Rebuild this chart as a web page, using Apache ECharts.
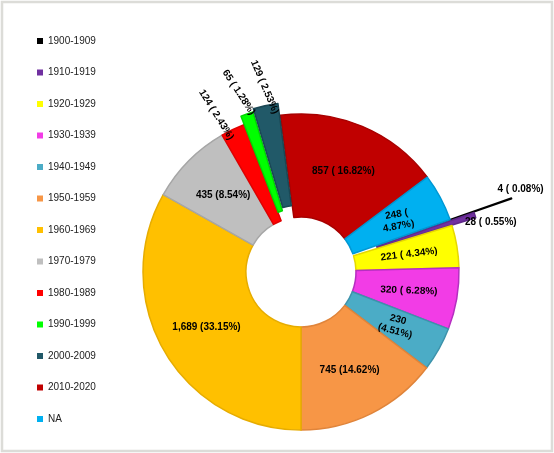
<!DOCTYPE html>
<html>
<head>
  <meta charset="utf-8">
  <script src="https://cdn.jsdelivr.net/npm/echarts@6/dist/echarts.min.js"></script>
  <style>
    body { margin: 0; background: #fff; }
    #chart { width: 554px; height: 453px; }
  </style>
</head>
<body>
<div id="chart"></div>
<script>
  // data
  var decades = ['1900-1909', '1910-1919', '1920-1929', '1930-1939', '1940-1949', '1950-1959',
    '1960-1969', '1970-1979', '1980-1989', '1990-1999', '2000-2009', '2010-2020', 'NA'];
  var counts = [4, 28, 221, 320, 230, 745, 1689, 435, 124, 65, 129, 857, 248];
  // text between count and percentage in each label
  var seps = [' ( ', ' ( ', ' ( ', ' ( ', '\n(', ' (', ' (', ' (', ' ( ', ' ( ', ' ( ', ' ( ', ' (\n'];

  // styles
  var colors = ['#000000', '#7030a0', '#ffff00', '#f23ce6', '#4bacc6', '#f79646',
    '#ffc000', '#bfbfbf', '#ff0000', '#00ff00', '#215968', '#c00000', '#00b0f0'];
  var borders = ['#000000', '#5f2889', '#e6d800', '#b52fc0', '#3d93ab', '#e0843a',
    '#e6ac00', '#a6a6a6', '#e00000', '#00d800', '#1a4754', '#a80000', '#0098d4'];
  var explode = [65, 25, 0, 0, 0, 0, 0, 0, 0, 9, 12, 0, 0];
  var outside = [1, 1, 0, 0, 0, 0, 0, 0, 1, 1, 1, 0, 0];
  var rotates = [0, 0, 7, -2, -15, 0, 0, 0, -58, -57, -67, 0, 10];
  var nudge = { 0: [-19, -9], 1: [-15, 7], 8: [10, 2], 9: [6, -9], 10: [13, -11] };

  var chart = echarts.init(document.getElementById('chart'));
  var font = 'Arial, "Liberation Sans", sans-serif';

  // one pie series per explosion distance, all with the same values so angles line up
  var offsets = [];
  explode.forEach(function (e) { if (offsets.indexOf(e) < 0) offsets.push(e); });

  var series = offsets.map(function (off) {
    return {
      type: 'pie',
      center: [301, 272],
      radius: [55, 158],
      startAngle: 19.4,
      clockwise: true,
      avoidLabelOverlap: false,
      selectedMode: 'multiple',
      selectedOffset: off,
      animation: false,
      silent: true,
      emphasis: { disabled: true, scale: false },
      labelLayout: function (p) {
        var n = nudge[p.dataIndex];
        if (n) return { dx: n[0], dy: n[1] };
      },
      data: decades.map(function (name, i) {
        var mine = explode[i] === off;
        return {
          name: name,
          value: counts[i],
          selected: mine && off > 0,
          itemStyle: mine
            ? { color: colors[i], borderColor: borders[i], borderWidth: 1.5 }
            : { color: 'rgba(0,0,0,0)', borderWidth: 0 },
          label: {
            show: mine,
            position: outside[i] ? 'outside' : 'inside',
            rotate: rotates[i],
            color: '#000',
            fontSize: 10,
            fontWeight: 'bold',
            fontFamily: font,
            lineHeight: 12,
            formatter: function (p) {
              return p.value.toLocaleString('en-US') + seps[p.dataIndex] + p.percent.toFixed(2) + '%)';
            }
          },
          labelLine: { show: false, length: 0, length2: 0 }
        };
      })
    };
  });

  var option = {
    backgroundColor: '#fff',
    graphic: [{
      type: 'rect',
      shape: { x: 2, y: 2, width: 550, height: 449 },
      style: { fill: 'none', stroke: '#dcdcd8', lineWidth: 2.5 },
      silent: true
    }],
    legend: {
      orient: 'vertical',
      left: 37,
      top: 35,
      padding: 0,
      itemWidth: 6,
      itemHeight: 6,
      itemGap: 19.5,
      icon: 'rect',
      selectedMode: false,
      textStyle: { fontSize: 10, color: '#222', fontFamily: font, lineHeight: 12 },
      data: decades.map(function (name, i) {
        return { name: name, itemStyle: { color: colors[i], borderWidth: 0 } };
      })
    },
    series: series
  };

  chart.setOption(option);
</script>
</body>
</html>
